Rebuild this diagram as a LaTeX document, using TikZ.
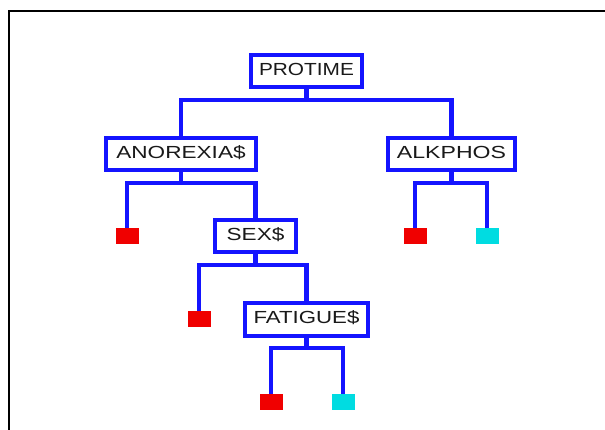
\documentclass[tikz,border=0pt]{standalone}
\usepackage{fontspec}
\setmainfont{Liberation Sans}
\definecolor{treeblue}{RGB}{20,20,255}
\definecolor{leafred}{RGB}{240,0,0}
\definecolor{leafcyan}{RGB}{0,220,225}
% split label: widened and set slightly above the box centre
\newcommand{\splitlabel}[2]{\raisebox{4pt}{\scalebox{#1}[1]{#2}}}
\begin{document}
\begin{tikzpicture}[x=1pt,y=-1pt,
  splitbox/.style={draw=treeblue,line width=4pt,fill=white,inner sep=0pt,
    minimum height=32pt,font=\fontsize{17.5}{17.5}\selectfont,text=black!90},
  leaf/.style={inner sep=0pt,minimum width=23pt,minimum height=16pt},
  redleaf/.style={leaf,fill=leafred},
  cyanleaf/.style={leaf,fill=leafcyan},
  branch/.style={draw=treeblue,line width=4.5pt,line join=miter}]
\useasboundingbox (0,0) rectangle (605,430);
% outer frame
\draw[line width=2.8pt] (9,432) -- (9,11) -- (607,11);

% split nodes
\node[splitbox,minimum width=111pt] (protime) at (306.5,71) {\splitlabel{1.19}{PROTIME}};
\node[splitbox,minimum width=150pt] (anorexia) at (181,154.5) {\splitlabel{1.29}{ANOREXIA\$}};
\node[splitbox,minimum width=127pt] (alkphos) at (451.5,154.5) {\splitlabel{1.32}{ALKPHOS}};
\node[splitbox,minimum width=81pt] (sex) at (255.5,236.5) {\splitlabel{1.29}{SEX\$}};
\node[splitbox,minimum width=123pt] (fatigue) at (306.5,319.5) {\splitlabel{1.27}{FATIGUE\$}};

% terminal leaves
\node[redleaf] (l1) at (127,236) {};
\node[redleaf] (l2) at (415,236) {};
\node[cyanleaf] (l3) at (487,236) {};
\node[redleaf] (l4) at (199,319) {};
\node[redleaf] (l5) at (271,402) {};
\node[cyanleaf] (l6) at (343,402) {};

% junction points
\coordinate (j0) at (306.5,100);
\coordinate (j1) at (181,183);
\coordinate (j2) at (451.5,183);
\coordinate (j3) at (255.5,265);
\coordinate (j4) at (306.5,348);

% connectors
\draw[branch] (protime.south) -- (j0);
\draw[branch] (anorexia.north) |- (j0) -| (alkphos.north);
\draw[branch] (anorexia.south) -- (j1);
\draw[branch] (l1.north) |- (j1) -| (sex.north);
\draw[branch] (alkphos.south) -- (j2);
\draw[branch] (l2.north) |- (j2) -| (l3.north);
\draw[branch] (sex.south) -- (j3);
\draw[branch] (l4.north) |- (j3) -| (fatigue.north);
\draw[branch] (fatigue.south) -- (j4);
\draw[branch] (l5.north) |- (j4) -| (l6.north);
\end{tikzpicture}
\end{document}
